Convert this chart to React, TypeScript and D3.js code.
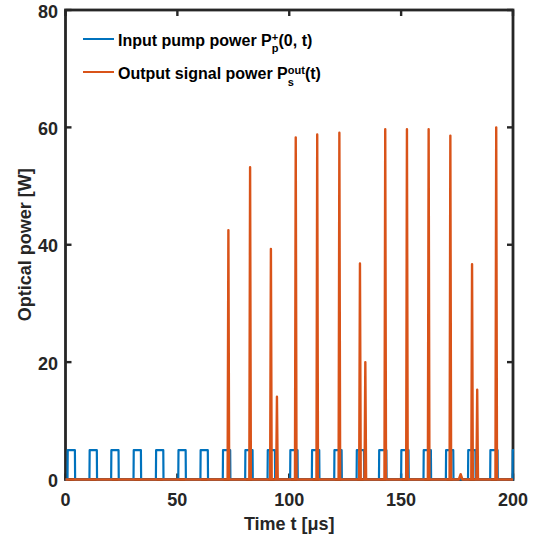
import React from "react";
import * as d3 from "d3";

// ---- data ----
const xTicks = [0, 50, 100, 150, 200];
const yTicks = [0, 20, 40, 60, 80];

// pump pulse rise / fall times [µs], height 5 W
const pumpRise = [0.9, 10.7, 20.4, 30.4, 40.4, 50.4, 60.3, 70.3, 80.3, 90.3, 100.4, 110.1, 120.1, 130.1, 140.1, 150.0, 160.0, 170.0, 179.9, 189.8, 199.8];
const pumpFall = [4.3, 14.1, 23.8, 33.8, 43.8, 53.8, 63.7, 73.7, 83.7, 93.7, 103.8, 113.5, 123.5, 133.5, 143.5, 153.4, 163.4, 173.4, 183.3, 193.2, 203.2];
const pumpLevel = 5;

// output signal spikes: time [µs] and peak power [W]
const spikeTime = [72.8, 82.5, 91.8, 94.5, 102.9, 112.5, 122.4, 131.6, 134.0, 142.9, 152.6, 162.3, 172.0, 176.6, 181.7, 184.0, 192.5];
const spikePeak = [42.5, 53.2, 39.3, 14.1, 58.3, 58.8, 59.1, 36.8, 20.0, 59.7, 59.7, 59.7, 58.6, 0.9, 36.7, 15.3, 60.0];

const W = 542, H = 540;
const L = 65.5, R = 513, T = 10, B = 479.5;
const axisColor = "#262626";
const blue = "#0072BD";
const orange = "#D95319";
const font = "Arial, 'Liberation Sans', Helvetica, sans-serif";

export default function App() {
  const x = d3.scaleLinear().domain([0, 200]).range([L, R]);
  const y = d3.scaleLinear().domain([0, 80]).range([B, T]);
  const line = d3.line<[number, number]>().x(d => x(d[0])).y(d => y(d[1]));

  const pumpPts: [number, number][] = [[0, 0]];
  pumpRise.forEach((r, i) => {
    const f = pumpFall[i];
    pumpPts.push([r, 0], [r + 0.1, pumpLevel], [f - 0.1, pumpLevel], [f, 0]);
  });
  pumpPts.push([205, 0]);
  const pumpBump: [number, number][] = [[175.9, 0], [176.6, 0.4], [177.3, 0]];

  const sigPts: [number, number][] = [[0, 0]];
  spikeTime.forEach((t, i) => {
    const p = spikePeak[i];
    const hw = p < 2 ? 0.8 : 0.35;
    sigPts.push([t - hw, 0], [t, p], [t + hw, 0]);
  });
  sigPts.push([200, 0]);

  const tickLen = 6;

  return (
    <svg width={W} height={H} style={{ position: "absolute", left: 0, top: 0, background: "#fff" }} fontFamily={font}>
      <defs>
        <clipPath id="plotclip">
          <rect x={L - 1} y={T - 5} width={R - L + 2} height={B - T + 8} />
        </clipPath>
      </defs>
      <rect x={0} y={0} width={W} height={H} fill="#fff" />
      <rect x={L} y={T} width={R - L} height={B - T} fill="none" stroke={axisColor} strokeWidth={2.8} />
      {xTicks.map(t => (
        <g key={"xt" + t}>
          <line x1={x(t)} x2={x(t)} y1={B} y2={B - tickLen} stroke={axisColor} strokeWidth={2.4} />
          <line x1={x(t)} x2={x(t)} y1={T} y2={T + tickLen} stroke={axisColor} strokeWidth={2.4} />
          <text x={x(t)} y={505.5} textAnchor="middle" fontSize={18} fontWeight="bold" fill={axisColor}>{t}</text>
        </g>
      ))}
      {yTicks.map(t => (
        <g key={"yt" + t}>
          <line x1={L} x2={L + tickLen} y1={y(t)} y2={y(t)} stroke={axisColor} strokeWidth={2.4} />
          <line x1={R} x2={R - tickLen} y1={y(t)} y2={y(t)} stroke={axisColor} strokeWidth={2.4} />
          <text x={58} y={y(t) + 7.5} textAnchor="end" fontSize={18} fontWeight="bold" fill={axisColor}>{t}</text>
        </g>
      ))}
      <g clipPath="url(#plotclip)">
        <path d={line(pumpPts) || ""} fill="none" stroke={blue} strokeWidth={2.2} strokeLinejoin="round" />
        <path d={line(pumpBump) || ""} fill="none" stroke={blue} strokeWidth={2} strokeLinejoin="round" />
        <path d={line(sigPts) || ""} fill="none" stroke={orange} strokeWidth={2.4} strokeLinejoin="round" />
      </g>
      <text x={(L + R) / 2} y={529.5} textAnchor="middle" fontSize={18} fontWeight="bold" fill={axisColor}>
        Time t [μs]
      </text>
      <text transform={`translate(31, ${(T + B) / 2}) rotate(-90)`} textAnchor="middle" fontSize={18} fontWeight="bold" fill={axisColor}>
        Optical power [W]
      </text>
      <line x1={83} x2={114} y1={39} y2={39} stroke={blue} strokeWidth={2} />
      <text x={118} y={45.7} fontSize={16} fontWeight="bold" fill="#000">
        Input pump power P
        <tspan fontSize={11} dy={-5}>+</tspan>
        <tspan fontSize={11} dx={-6.4} dy={11}>p</tspan>
        <tspan dy={-6}>(0, t)</tspan>
      </text>
      <line x1={83} x2={114} y1={72} y2={72} stroke={orange} strokeWidth={2} />
      <text x={118} y={78.7} fontSize={16} fontWeight="bold" fill="#000">
        Output signal power P
        <tspan fontSize={11} dy={-5}>out</tspan>
        <tspan fontSize={11} dx={-17.1} dy={12}>s</tspan>
        <tspan dx={11} dy={-7}>(t)</tspan>
      </text>
    </svg>
  );
}
